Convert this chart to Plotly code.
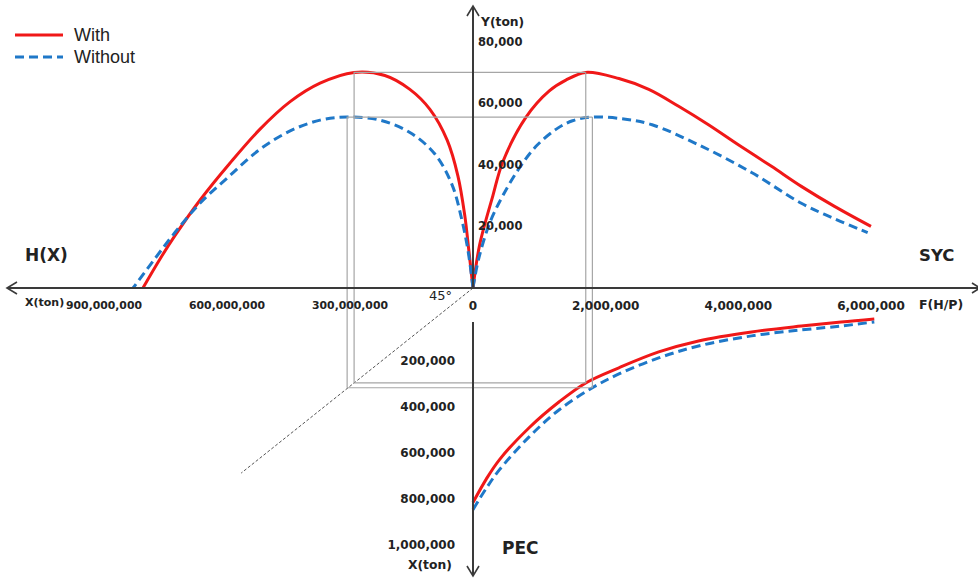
import numpy as np
import plotly.graph_objects as go

# ---------------- data ----------------
# SYC quadrant (upper right): F(H/P) vs Y(ton)
syc_f_with = [0, 100000, 300000, 450000, 800000, 1150000, 1400000, 1700000, 2200000, 2650000,
              3100000, 3550000, 4000000, 4500000, 4950000, 5450000, 6000000]
syc_y_with = [0, 14000, 30000, 41000, 55500, 64000, 67500, 70000, 68000, 64500,
              59000, 53000, 46500, 39500, 33000, 26500, 20000]
syc_f_without = [0, 80000, 250000, 450000, 700000, 950000, 1250000, 1500000, 1800000, 2300000,
                 2700000, 3400000, 4200000, 4950000, 5450000, 5950000]
syc_y_without = [0, 9000, 21000, 30000, 39000, 46000, 51500, 54300, 55500, 54800,
                 53000, 46500, 37500, 27500, 22500, 18000]

# H(X) quadrant (upper left): X(ton) vs Y(ton)
hx_x_with = [0, 10e6, 20e6, 37e6, 63e6, 105e6, 154e6, 215e6, 290e6, 373e6, 446e6, 520e6,
             593e6, 666e6, 727e6, 763e6, 805e6]
hx_y_with = [0, 12000, 23500, 36500, 48000, 58000, 64500, 69000, 70000, 66500, 60500, 51500,
             40500, 28500, 17000, 9500, 0]
hx_x_without = [0, 12e6, 27e6, 51e6, 93e6, 154e6, 227e6, 307e6, 373e6, 446e6, 520e6, 593e6,
                666e6, 727e6, 776e6, 829e6]
hx_y_without = [0, 12000, 22000, 33500, 43500, 50500, 54500, 55500, 54500, 51000, 45000, 36500,
                27500, 18000, 9500, 0]

# PEC quadrant (lower right): F(H/P) vs X(ton)
pec_f_with = [0, 200000, 400000, 850000, 1300000, 1700000, 2200000, 2800000, 3400000, 4200000,
              4950000, 5550000, 6050000]
pec_x_with = [817000, 715000, 630000, 490000, 378000, 296000, 230000, 161000, 113000, 74000,
              48000, 30000, 17000]
pec_f_without = [0, 200000, 400000, 850000, 1300000, 1800000, 2200000, 2800000, 3400000, 4200000,
                 4950000, 5550000, 6050000]
pec_x_without = [848000, 755000, 674000, 530000, 413000, 317000, 257000, 187000, 135000, 91000,
                 65000, 48000, 30000]

# tick labels
f_ticks = [0, 2000000, 4000000, 6000000]
hx_ticks = [300000000, 600000000, 900000000]
y_ticks = [20000, 40000, 60000, 80000]
pec_ticks = [200000, 400000, 600000, 800000, 1000000]

series_names = ["With", "Without"]

# ---------------- layout geometry ----------------
W, H = 978, 578
OX = 473          # pixel column of the vertical axis
OY = 288          # pixel row of the horizontal axis
F_PPU = 66.33e-6  # px per F unit
HX_PPU = 0.41e-6  # px per X(ton) unit (left)
Y_PPU = 3.08e-3   # px per Y(ton) unit
PEC_Y0 = 315      # pixel row of X(ton)=0 on the lower scale
PEC_PPU = 0.2295e-3

RED = "#f01818"
BLUE = "#1f78c8"
GUIDE = "#a6a6a6"
AXIS = "#3a3a3a"
TXT = "#222222"
SMOOTH = 1.0


def px(v):
    return v / W


def py(v):
    return 1 - v / H


def y_at_row(row):
    return (OY - row) / Y_PPU


def pec_row(v):
    return PEC_Y0 + v * PEC_PPU


fig = go.Figure()

dash_blue = "9px,5px"


def curve(xs, ys, xa, ya, color, dash=None):
    ln = dict(color=color, width=3, shape="spline", smoothing=SMOOTH)
    if dash:
        ln["dash"] = dash
    fig.add_trace(go.Scatter(x=xs, y=ys, xaxis=xa, yaxis=ya, mode="lines", line=ln,
                             showlegend=False, hoverinfo="skip"))


curve(syc_f_with, syc_y_with, "x", "y", RED)
curve(syc_f_without, syc_y_without, "x", "y", BLUE, dash_blue)
curve(hx_x_with, hx_y_with, "x2", "y", RED)
curve(hx_x_without, hx_y_without, "x2", "y", BLUE, dash_blue)
curve(pec_f_with, pec_x_with, "x", "y2", RED)
curve(pec_f_without, pec_x_without, "x", "y2", BLUE, dash_blue)


# guide boxes derived from the data
def guide_box(syc_f, syc_y, hx_x, hx_y, pec_f, pec_x):
    i = int(np.argmax(syc_y))
    fp, yp = syc_f[i], syc_y[i]
    xl = hx_x[int(np.argmax(hx_y))]
    xd = float(np.interp(fp, pec_f, pec_x))
    y_bottom = y_at_row(pec_row(xd))
    y2_top = (OY - yp * Y_PPU - PEC_Y0) / PEC_PPU
    style = dict(mode="lines", line=dict(color=GUIDE, width=1.2), showlegend=False, hoverinfo="skip")
    fig.add_trace(go.Scatter(x=[0, xl, xl], y=[yp, yp, y_bottom], xaxis="x2", yaxis="y", **style))
    fig.add_trace(go.Scatter(x=[0, fp], y=[yp, yp], xaxis="x", yaxis="y", **style))
    fig.add_trace(go.Scatter(x=[fp, fp], y=[y2_top, xd], xaxis="x", yaxis="y2", **style))
    fig.add_trace(go.Scatter(x=[xl, 0], y=[xd, xd], xaxis="x2", yaxis="y2", **style))
    fig.add_trace(go.Scatter(x=[0, fp], y=[xd, xd], xaxis="x", yaxis="y2", **style))
    return xl, y_bottom


corner = guide_box(syc_f_with, syc_y_with, hx_x_with, hx_y_with, pec_f_with, pec_x_with)
guide_box(syc_f_without, syc_y_without, hx_x_without, hx_y_without, pec_f_without, pec_x_without)

# 45 degree construction line through the box corner
fig.add_trace(go.Scatter(x=[0, corner[0] * 1.95], y=[0, corner[1] * 1.95], xaxis="x2", yaxis="y",
                         mode="lines", line=dict(color="#555555", width=1, dash="3px,2px"),
                         showlegend=False, hoverinfo="skip"))

tick_font = dict(family="DejaVu Sans", size=12, color=TXT, weight="bold")

fig.update_layout(
    width=W, height=H,
    margin=dict(l=0, r=0, t=0, b=0),
    paper_bgcolor="white", plot_bgcolor="white",
    showlegend=False,
    xaxis=dict(domain=[0, 1], range=[-OX / F_PPU, (W - OX) / F_PPU], anchor="free",
               position=py(OY), side="bottom", tickvals=f_ticks, tickformat=",d",
               showgrid=False, zeroline=False, showline=False, ticks="",
               ticklabelstandoff=9, tickfont=tick_font, automargin=False, fixedrange=True),
    xaxis2=dict(domain=[0, 1], range=[OX / HX_PPU, -(W - OX) / HX_PPU], anchor="free",
                overlaying="x", position=py(OY), side="bottom", tickvals=hx_ticks, tickformat=",d",
                showgrid=False, zeroline=False, showline=False, ticks="",
                ticklabelstandoff=9, tickfont=dict(tick_font, size=10.8), automargin=False),
    yaxis=dict(domain=[0, 1], range=[-(H - OY) / Y_PPU, OY / Y_PPU], anchor="free",
               position=px(OX), side="right", tickvals=y_ticks, tickformat=",d",
               showgrid=False, zeroline=False, showline=False, ticks="",
               ticklabelstandoff=4, tickfont=dict(tick_font, size=11.5), automargin=False),
    yaxis2=dict(domain=[0, 1], range=[(H - PEC_Y0) / PEC_PPU, -PEC_Y0 / PEC_PPU], anchor="free",
                overlaying="y", position=px(OX), side="left", tickvals=pec_ticks, tickformat=",d",
                showgrid=False, zeroline=False, showline=False, ticks="",
                ticklabelstandoff=18, tickfont=tick_font, automargin=False),
)

# axis lines with open arrowheads
shapes = []
ax_line = dict(color=AXIS, width=2)
shapes.append(dict(type="line", xref="paper", yref="paper", x0=px(7), x1=1, y0=py(OY), y1=py(OY), line=ax_line))
shapes.append(dict(type="line", xref="paper", yref="paper", x0=px(OX), x1=px(OX), y0=py(6), y1=py(OY), line=ax_line))
shapes.append(dict(type="line", xref="paper", yref="paper", x0=px(OX), x1=px(OX), y0=py(322), y1=py(576), line=ax_line))


def chevron(p0, tip, p1):
    return dict(type="path", xref="paper", yref="paper",
                path=f"M{px(p0[0])},{py(p0[1])} L{px(tip[0])},{py(tip[1])} L{px(p1[0])},{py(p1[1])}",
                line=dict(color=AXIS, width=1.6))


shapes.append(chevron((17, OY - 6), (7, OY), (17, OY + 6)))
shapes.append(chevron((OX - 6, 16), (OX, 6), (OX + 6, 16)))
shapes.append(chevron((OX - 6, 566), (OX, 576), (OX + 6, 566)))
shapes.append(chevron((972, OY - 5), (980, OY), (972, OY + 5)))

# custom legend samples
shapes.append(dict(type="line", xref="paper", yref="paper", x0=px(15), x1=px(63), y0=py(35), y1=py(35),
                   line=dict(color=RED, width=3)))
shapes.append(dict(type="line", xref="paper", yref="paper", x0=px(15), x1=px(63), y0=py(57), y1=py(57),
                   line=dict(color=BLUE, width=3, dash=dash_blue)))
fig.update_layout(shapes=shapes)

bold = dict(family="DejaVu Sans", color=TXT, weight="bold")
ann = []


def text(t, x, y, size, anchor="center", font=None):
    f = dict(font or bold)
    f["size"] = size
    ann.append(dict(text=t, xref="paper", yref="paper", x=px(x), y=py(y), xanchor=anchor,
                    yanchor="middle", showarrow=False, font=f))


text(series_names[0], 72, 35, 18, "left", dict(family="Liberation Sans", color=TXT))
text(series_names[1], 72, 57, 18, "left", dict(family="Liberation Sans", color=TXT))
text("Y(ton)", 478, 22, 12.3, "left")
text("H(X)", 46, 255, 17)
text("SYC", 936, 255, 16.5)
text("PEC", 520, 548, 17)
text("X(ton)", 23, 302, 11, "left")
text("F(H/P)", 917, 304, 12.5, "left")
text("X(ton)", 454, 565, 12.3, "right")
text("45°", 440, 295, 13, "center", dict(family="DejaVu Sans", color=TXT))
fig.update_layout(annotations=ann)

fig.write_html("out.html")
